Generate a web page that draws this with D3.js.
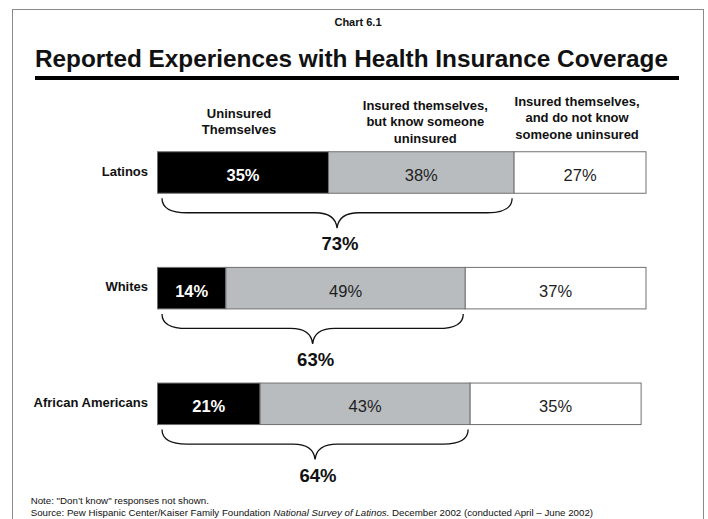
<!DOCTYPE html>
<html>
<head>
<meta charset="utf-8">
<script src="https://cdn.jsdelivr.net/npm/d3@7"></script>
<style>
  html, body { margin: 0; padding: 0; background: #fff; }
  svg { display: block; font-family: "Liberation Sans", Arial, Helvetica, sans-serif; }
</style>
</head>
<body>
<svg id="chart" width="708" height="519"></svg>
<script>
// ---- Data ----
const categories = ["Latinos", "Whites", "African Americans"];
const uninsured   = [35, 14, 21];   // Uninsured themselves
const knowSomeone = [38, 49, 43];   // Insured, but know someone uninsured
const dontKnow    = [27, 37, 35];   // Insured, do not know someone uninsured
const combined    = [73, 63, 64];   // brace totals
const seriesKeys  = ["uninsured", "knowSomeone", "dontKnow"];
const headers = [
  ["Uninsured", "Themselves"],
  ["Insured themselves,", "but know someone", "uninsured"],
  ["Insured themselves,", "and do not know", "someone uninsured"]
];
const chartLabel = "Chart 6.1";
const title = "Reported Experiences with Health Insurance Coverage";
const note = "Note: \"Don\u2019t know\" responses not shown.";
const sourcePre = "Source: Pew Hispanic Center/Kaiser Family Foundation ";
const sourceItalic = "National Survey of Latinos.";
const sourcePost = " December 2002 (conducted April \u2013 June 2002)";

// ---- Table ----
const table = categories.map((c, i) => ({
  category: c, uninsured: uninsured[i], knowSomeone: knowSomeone[i],
  dontKnow: dontKnow[i], combined: combined[i]
}));

const svg = d3.select("#chart");

// frame
svg.append("rect").attr("x", 12.5).attr("y", 9.5).attr("width", 691).attr("height", 530)
  .attr("fill", "#fff").attr("stroke", "#8a8a8a").attr("stroke-width", 1);

// chart label
svg.append("text").attr("x", 358).attr("y", 25.5).attr("text-anchor", "middle")
  .attr("font-size", 11).attr("font-weight", "bold").attr("fill", "#111").text(chartLabel);

// title
svg.append("text").attr("x", 35).attr("y", 66.7)
  .attr("font-size", 24.5).attr("font-weight", "bold").attr("fill", "#111")
  .attr("textLength", 633).attr("lengthAdjust", "spacingAndGlyphs").text(title);
svg.append("rect").attr("x", 35).attr("y", 76).attr("width", 644).attr("height", 4).attr("fill", "#000");

// ---- Scales ----
const x = d3.scaleLinear().domain([0, 100]).range([157.5, 646]);
const y = d3.scalePoint().domain(categories).range([172.5, 403.8]);
const barH = 41.5;
const fills = d3.scaleOrdinal().domain(seriesKeys).range(["#000000", "#b8bcbe", "#ffffff"]);
const labelFill = d3.scaleOrdinal().domain(seriesKeys).range(["#ffffff", "#1e1e1e", "#1e1e1e"]);
const labelWeight = d3.scaleOrdinal().domain(seriesKeys).range(["bold", "normal", "normal"]);

const stacked = d3.stack().keys(seriesKeys)(table);

// ---- Bars ----
const g = svg.append("g");
stacked.forEach(series => {
  g.selectAll(null).data(series).join("rect")
    .attr("x", d => x(d[0]))
    .attr("y", d => y(d.data.category) - barH / 2)
    .attr("width", d => x(d[1]) - x(d[0]))
    .attr("height", barH)
    .attr("fill", fills(series.key))
    .attr("stroke", "#707070").attr("stroke-width", 1);
});
stacked.forEach(series => {
  g.selectAll(null).data(series).join("text")
    .attr("x", d => (x(d[0]) + x(d[1])) / 2)
    .attr("y", d => y(d.data.category) + 8.5)
    .attr("text-anchor", "middle")
    .attr("font-size", 16.5)
    .attr("font-weight", labelWeight(series.key))
    .attr("fill", labelFill(series.key))
    .text(d => (d[1] - d[0]) + "%");
});

// ---- Category labels ----
svg.selectAll(null).data(table).join("text")
  .attr("x", 148).attr("y", d => y(d.category) + 3)
  .attr("text-anchor", "end").attr("font-size", 13).attr("font-weight", "bold").attr("fill", "#111")
  .text(d => d.category);

// ---- Column headers (centred over the first row's segments) ----
const headerLastBaseline = [134.3, 142.6, 138.5];
const lineH = 16.4;
const firstRow = stacked.map(s => s[0]);
headers.forEach((lines, i) => {
  const cx = (x(firstRow[i][0]) + x(firstRow[i][1])) / 2 + [-4, 4, -3][i];
  const t = svg.append("text").attr("text-anchor", "middle")
    .attr("font-size", 13).attr("font-weight", "bold").attr("fill", "#111");
  lines.forEach((ln, j) => {
    t.append("tspan").attr("x", cx)
      .attr("y", headerLastBaseline[i] - (lines.length - 1 - j) * lineH).text(ln);
  });
});

// ---- Braces ----
function bracePath(x0, x1, yT) {
  const xm = (x0 + x1) / 2, yh = yT + 14.5, yt = yT + 30;
  return `M${x0},${yT} C${x0},${yT + 9} ${x0 + 8},${yh} ${x0 + 25},${yh}` +
         ` L${xm - 22},${yh} C${xm - 8},${yh} ${xm - 1},${yT + 20} ${xm},${yt}` +
         ` C${xm + 1},${yT + 20} ${xm + 8},${yh} ${xm + 22},${yh}` +
         ` L${x1 - 25},${yh} C${x1 - 8},${yh} ${x1},${yT + 9} ${x1},${yT}`;
}
table.forEach(d => {
  const x0 = x(0) + 4.5;
  const x1 = x(d.uninsured + d.knowSomeone) - 2;
  const yT = y(d.category) + barH / 2 + 5;
  svg.append("path").attr("d", bracePath(x0, x1, yT))
    .attr("fill", "none").attr("stroke", "#111").attr("stroke-width", 1.3);
  svg.append("text").attr("x", (x0 + x1) / 2 + 3).attr("y", yT + 52)
    .attr("text-anchor", "middle").attr("font-size", 18.5).attr("font-weight", "bold").attr("fill", "#111")
    .text(d.combined + "%");
});

// ---- Footnotes ----
const nt = svg.append("text").attr("x", 30.7).attr("y", 503.5).attr("font-size", 10).attr("fill", "#111").text(note);
const src = svg.append("text").attr("x", 30.7).attr("y", 516).attr("font-size", 10).attr("fill", "#111");
src.append("tspan").text(sourcePre);
src.append("tspan").attr("font-style", "italic").text(sourceItalic);
src.append("tspan").text(sourcePost);
const wSrc = src.node().getComputedTextLength();
const k = 562.6 / wSrc;
src.attr("font-size", 10 * k);
nt.attr("font-size", 10 * k);
</script>
</body>
</html>
